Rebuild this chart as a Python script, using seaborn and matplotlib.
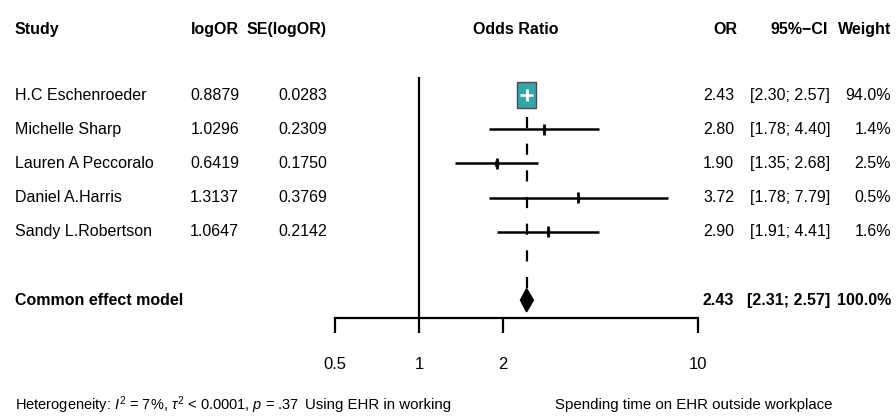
import numpy as np
import pandas as pd
import matplotlib
matplotlib.use("Agg")
import matplotlib.pyplot as plt
import matplotlib.transforms as mtransforms
from matplotlib.path import Path
from matplotlib.ticker import NullLocator
import seaborn as sns

# values
studies = ["H.C Eschenroeder", "Michelle Sharp", "Lauren A Peccoralo", "Daniel A.Harris", "Sandy L.Robertson"]
log_or = [0.8879, 1.0296, 0.6419, 1.3137, 1.0647]
se_log_or = [0.0283, 0.2309, 0.1750, 0.3769, 0.2142]
odds_ratio = [2.43, 2.80, 1.90, 3.72, 2.90]
ci_low = [2.30, 1.78, 1.35, 1.78, 1.91]
ci_high = [2.57, 4.40, 2.68, 7.79, 4.41]
weight = [94.0, 1.4, 2.5, 0.5, 1.6]
pooled_or, pooled_low, pooled_high = 2.43, 2.31, 2.57
x_ticks = [0.5, 1, 2, 10]
x_tick_labels = ["0.5", "1", "2", "10"]

df = pd.DataFrame({"study": studies, "logor": log_or, "se": se_log_or, "or": odds_ratio,
                   "low": ci_low, "high": ci_high, "weight": weight})
df["row"] = np.arange(len(df))
pooled_row = len(df) + 1

sns.set_theme(style="white")
plt.rcParams['font.family'] = ['Liberation Sans', 'DejaVu Sans']
plt.rcParams['mathtext.fontset'] = 'custom'
plt.rcParams['mathtext.rm'] = 'Liberation Sans'
plt.rcParams['mathtext.it'] = 'Liberation Sans:italic'

W, H = 896, 420
fig = plt.figure(figsize=(W / 100, H / 100), dpi=100)
ax = fig.add_axes([0, 0, 1, 1])
ax.set_xscale('log', base=2)
# pixel layout: OR=1 at x=419, 84 px per doubling; first study at y=95, 34.2 px per row
ax.set_xlim(2 ** (-419 / 84), 2 ** ((W - 419) / 84))
row_h = 34.2
ax.set_ylim((H - 95) / row_h, -95 / row_h)
def yrow(px):
    return (px - 95) / row_h

axis_y = yrow(318)
sns.despine(ax=ax, left=True)
ax.spines['bottom'].set_position(('data', axis_y))
ax.spines['bottom'].set_bounds(min(x_ticks), max(x_ticks))
ax.spines['bottom'].set_linewidth(1.6)
ax.spines['bottom'].set_color('black')
ax.set_xticks(x_ticks)
ax.set_xticklabels(x_tick_labels)
ax.xaxis.set_minor_locator(NullLocator())
ax.tick_params(axis='x', direction='out', length=11, width=1.6, pad=17, labelsize=12,
               colors='black', bottom=True)
ax.set_yticks([])
ax.set_facecolor('white')

# reference line (no effect) and pooled estimate
ax.vlines(1, yrow(77), axis_y, color='black', lw=1.6)
ax.vlines(pooled_or, yrow(117), yrow(291), color='black', lw=1.6, linestyles=(0, (5, 7)))

# study boxes sized by weight
box = Path([(-0.5, -0.7), (0.5, -0.7), (0.5, 0.7), (-0.5, 0.7), (-0.5, -0.7)],
           [Path.MOVETO, Path.LINETO, Path.LINETO, Path.LINETO, Path.CLOSEPOLY])
sns.scatterplot(data=df, x="or", y="row", size="weight",
                sizes={w: 377 * w / max(weight) for w in weight},
                marker=box, color="#2ea8a8", edgecolor="#4a4a4a", linewidth=1,
                legend=False, ax=ax, zorder=2)
line_cols = ['white' if w > 50 else 'black' for w in weight]
ax.hlines(df["row"], df["low"], df["high"], colors=line_cols, lw=1.8, zorder=3)
ax.scatter(df["or"], df["row"], marker='|', s=64, linewidths=2, c=line_cols, zorder=4)
ax.set_xlabel("")
ax.set_ylabel("")

# pooled diamond
dh = 0.34
ax.fill([pooled_low, pooled_or, pooled_high, pooled_or],
        [pooled_row, pooled_row - dh, pooled_row, pooled_row + dh], color='black', zorder=3)

# text columns
tr = mtransforms.blended_transform_factory(ax.transAxes, ax.transData)
fs = 11.5
def col(px, y, s, ha='right', **kw):
    ax.text(px / W, y, s, transform=tr, ha=ha, va='center', fontsize=kw.pop('fontsize', fs),
            color='black', **kw)

hdr = yrow(29)
col(15, hdr, "Study", ha='left', fontweight='bold')
col(239, hdr, "logOR", fontweight='bold')
col(327, hdr, "SE(logOR)", fontweight='bold')
col(516, hdr, "Odds Ratio", ha='center', fontweight='bold')
col(737, hdr, "OR", fontweight='bold')
col(828, hdr, "95%\u2212CI", fontweight='bold')
col(891, hdr, "Weight", fontweight='bold')

for _, r in df.iterrows():
    col(15, r["row"], r["study"], ha='left')
    col(239, r["row"], f"{r['logor']:.4f}")
    col(327, r["row"], f"{r['se']:.4f}")
    col(734, r["row"], f"{r['or']:.2f}")
    col(830, r["row"], f"[{r['low']:.2f}; {r['high']:.2f}]")
    col(891, r["row"], f"{r['weight']:.1f}%")

col(15, pooled_row, "Common effect model", ha='left', fontweight='bold')
col(734, pooled_row, f"{pooled_or:.2f}", fontweight='bold')
col(830, pooled_row, f"[{pooled_low:.2f}; {pooled_high:.2f}]", fontweight='bold')
col(891, pooled_row, f"{sum(weight):.1f}%", fontweight='bold')

by = yrow(405)
col(15, by, r"Heterogeneity: $I^2$ = 7%, $\tau^2$ < 0.0001, $p$ = .37", ha='left', fontsize=10.5)
col(305, by, "Using EHR in working", ha='left', fontsize=10.8)
col(555, by, "Spending time on EHR outside workplace", ha='left', fontsize=10.8)

fig.savefig("out.png", dpi=100, facecolor='white')
